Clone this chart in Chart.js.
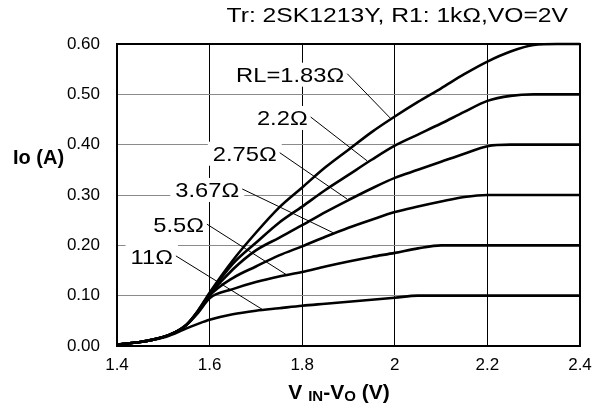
<!DOCTYPE html>
<html><head><meta charset="utf-8">
<script src="https://cdn.jsdelivr.net/npm/chart.js@4/dist/chart.umd.min.js"></script>
<style>html,body{margin:0;padding:0;background:#fff;} #wrap{width:612px;height:403px;}</style>
</head><body><div id="wrap"><canvas id="c" width="612" height="403"></canvas></div>
<script>
// ---- data ----
const vin    = [1.4, 1.45, 1.5, 1.525, 1.55, 1.575, 1.6, 1.65, 1.7, 1.75, 1.8, 1.85, 1.9, 1.95, 2.0, 2.05, 2.1, 2.15, 2.2, 2.25, 2.3, 2.35, 2.4];
const io183  = [0.003,0.008,0.018,0.027,0.042,0.070,0.106,0.170,0.225,0.275,0.315,0.355,0.390,0.425,0.456,0.485,0.512,0.540,0.565,0.585,0.598,0.600,0.600];
const io22   = [0.003,0.008,0.018,0.027,0.042,0.070,0.104,0.163,0.205,0.245,0.277,0.310,0.340,0.370,0.398,0.420,0.442,0.465,0.487,0.497,0.500,0.500,0.500];
const io275  = [0.003,0.008,0.018,0.027,0.042,0.069,0.102,0.152,0.190,0.215,0.240,0.266,0.290,0.313,0.334,0.350,0.366,0.382,0.397,0.400,0.400,0.400,0.400];
const io367  = [0.003,0.008,0.018,0.027,0.042,0.068,0.100,0.135,0.158,0.180,0.198,0.217,0.235,0.251,0.266,0.277,0.287,0.296,0.300,0.300,0.300,0.300,0.300];
const io55   = [0.003,0.008,0.018,0.027,0.042,0.066,0.095,0.113,0.127,0.138,0.147,0.158,0.168,0.177,0.185,0.194,0.200,0.200,0.200,0.200,0.200,0.200,0.200];
const io11   = [0.003,0.008,0.017,0.025,0.035,0.044,0.052,0.063,0.070,0.075,0.080,0.084,0.088,0.092,0.096,0.100,0.100,0.100,0.100,0.100,0.100,0.100,0.100];
const seriesLabels = ['RL=1.83Ω', '2.2Ω', '2.75Ω', '3.67Ω', '5.5Ω', '11Ω'];
const seriesValues = [io183, io22, io275, io367, io55, io11];
const xTickValues = [1.4, 1.6, 1.8, 2.0, 2.2, 2.4];
const xTickLabels = ['1.4', '1.6', '1.8', '2', '2.2', '2.4'];
const yTickValues = [0, 0.1, 0.2, 0.3, 0.4, 0.5, 0.6];
const yTickLabels = ['0.00', '0.10', '0.20', '0.30', '0.40', '0.50', '0.60'];
const titleText = 'Tr: 2SK1213Y, R1: 1kΩ,VO=2V';
const yTitleText = 'Io (A)';

// label placement (data units): text centre and leader-line end
const labelPlacement = [
  {cx: 1.774, cy: 0.539, ex: 1.990, ey: 0.453},
  {cx: 1.757, cy: 0.453, ex: 1.940, ey: 0.368},
  {cx: 1.676, cy: 0.382, ex: 1.897, ey: 0.292},
  {cx: 1.595, cy: 0.310, ex: 1.867, ey: 0.225},
  {cx: 1.533, cy: 0.240, ex: 1.767, ey: 0.141},
  {cx: 1.475, cy: 0.177, ex: 1.715, ey: 0.072}
];

const FONT = '"Liberation Sans", Arial, sans-serif';
const LABEL_SX = 1.13, TITLE_SX = 1.175;

const labelsPlugin = {
  id: 'curveLabels',
  beforeDatasetsDraw(chart) {
    const {ctx, scales: {x, y}} = chart;
    ctx.save();
    ctx.font = '21px ' + FONT;
    ctx.textBaseline = 'middle';
    ctx.textAlign = 'center';
    const boxes = labelPlacement.map((p, i) => {
      const t = seriesLabels[i];
      const px = x.getPixelForValue(p.cx), py = y.getPixelForValue(p.cy);
      const w = ctx.measureText(t).width * LABEL_SX;
      return {t, px, py, w};
    });
    boxes.forEach(b => {
      ctx.fillStyle = '#fff';
      ctx.fillRect(b.px - b.w / 2 - 5, b.py - 12, b.w + 10, 24);
    });
    boxes.forEach((b, i) => {
      const p = labelPlacement[i];
      ctx.fillStyle = '#000';
      ctx.save();
      ctx.translate(b.px, b.py + 1);
      ctx.scale(LABEL_SX, 1);
      ctx.fillText(b.t, 0, 0);
      ctx.restore();
      ctx.strokeStyle = '#000';
      ctx.lineWidth = 1;
      ctx.beginPath();
      ctx.moveTo(b.px + b.w / 2 + 3, b.py - 1);
      ctx.lineTo(x.getPixelForValue(p.ex), y.getPixelForValue(p.ey));
      ctx.stroke();
    });
    ctx.restore();
  },
  afterDraw(chart) {
    const {ctx, chartArea: a} = chart;
    ctx.save();
    // frame top/right
    ctx.strokeStyle = '#000';
    ctx.lineWidth = 2;
    ctx.beginPath();
    ctx.moveTo(a.left, a.top); ctx.lineTo(a.right, a.top); ctx.lineTo(a.right, a.bottom);
    ctx.stroke();
    // title
    ctx.fillStyle = '#000';
    ctx.font = '21px ' + FONT;
    ctx.textAlign = 'right';
    ctx.textBaseline = 'middle';
    ctx.save();
    ctx.translate(a.right - 12, 16);
    ctx.scale(TITLE_SX, 1);
    ctx.fillText(titleText, 0, 0);
    ctx.restore();
    // y title
    ctx.font = 'bold 20px ' + FONT;
    ctx.textAlign = 'left';
    ctx.fillText(yTitleText, 13, 158);
    // x title with subscripts: V IN - V O (V)
    const parts = [
      {t: 'V ', sub: false}, {t: 'IN', sub: true}, {t: '-V', sub: false},
      {t: 'O', sub: true}, {t: ' (V)', sub: false}
    ];
    const bigF = 'bold 21px ' + FONT, smallF = 'bold 15px ' + FONT;
    let total = 0;
    parts.forEach(p => { ctx.font = p.sub ? smallF : bigF; total += ctx.measureText(p.t).width; });
    let cx = 339 - total / 2;
    const base = 399;
    ctx.textBaseline = 'alphabetic';
    parts.forEach(p => {
      ctx.font = p.sub ? smallF : bigF;
      ctx.fillText(p.t, cx, p.sub ? base + 2 : base);
      cx += ctx.measureText(p.t).width;
    });
    ctx.restore();
  }
};

new Chart(document.getElementById('c'), {
  type: 'line',
  data: {
    datasets: seriesValues.map((vals, i) => ({
      label: seriesLabels[i],
      data: vin.map((v, j) => ({x: v, y: vals[j]})),
      borderColor: '#000',
      borderWidth: 2.6,
      pointRadius: 0,
      cubicInterpolationMode: 'monotone',
      fill: false,
      clip: 4
    }))
  },
  options: {
    responsive: false,
    animation: false,
    devicePixelRatio: 1,
    layout: {padding: {top: 44, right: 32, left: 0, bottom: 0}},
    plugins: {legend: {display: false}, tooltip: {enabled: false}, title: {display: false}},
    scales: {
      x: {
        type: 'linear', min: 1.4, max: 2.4,
        afterBuildTicks: s => { s.ticks = xTickValues.map(v => ({value: v})); },
        afterFit: s => { s.height = 57; },
        ticks: {
          callback: (v, i) => xTickLabels[i],
          font: {size: 17, family: FONT}, color: '#000', padding: 9, maxRotation: 0
        },
        grid: {color: '#000', lineWidth: 1, drawTicks: false},
        border: {color: '#000', width: 2}
      },
      y: {
        type: 'linear', min: 0, max: 0.6,
        afterBuildTicks: s => { s.ticks = yTickValues.map(v => ({value: v})); },
        afterFit: s => { s.width = 117; },
        ticks: {
          callback: (v, i) => yTickLabels[i],
          font: {size: 17, family: FONT}, color: '#000', padding: 17
        },
        grid: {color: '#8a8a8a', lineWidth: 1, drawTicks: false},
        border: {color: '#000', width: 2}
      }
    }
  },
  plugins: [labelsPlugin]
});
</script>
</body></html>
